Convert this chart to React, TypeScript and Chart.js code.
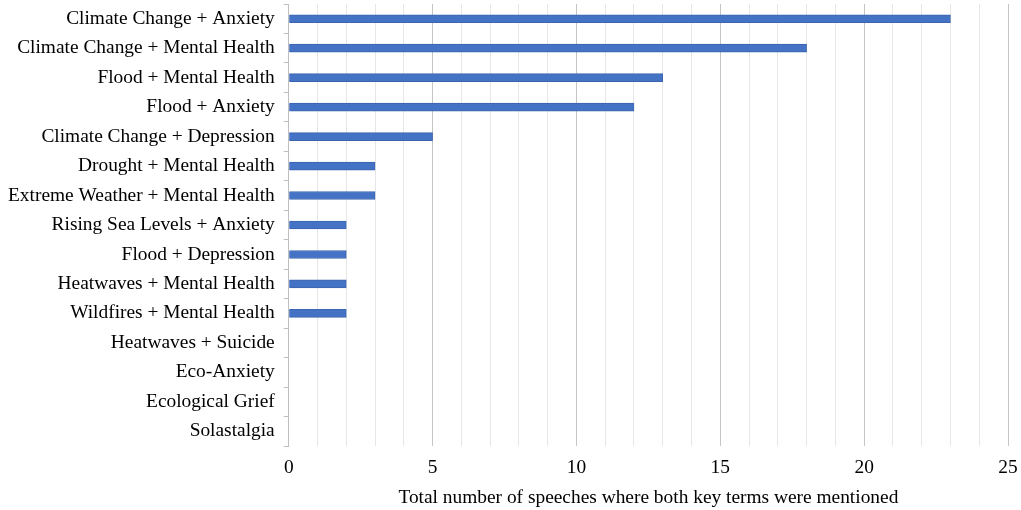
import { useEffect, useRef } from "react";
import { Chart, registerables } from "chart.js";

Chart.register(...registerables);

const categories = [
  "Climate Change + Anxiety",
  "Climate Change + Mental Health",
  "Flood + Mental Health",
  "Flood + Anxiety",
  "Climate Change + Depression",
  "Drought + Mental Health",
  "Extreme Weather + Mental Health",
  "Rising Sea Levels + Anxiety",
  "Flood + Depression",
  "Heatwaves + Mental Health",
  "Wildfires + Mental Health",
  "Heatwaves + Suicide",
  "Eco-Anxiety",
  "Ecological Grief",
  "Solastalgia",
];

const speeches = [23, 18, 13, 12, 5, 3, 3, 2, 2, 2, 2, 0, 0, 0, 0];

const xAxisTitle = "Total number of speeches where both key terms were mentioned";

const FONT = "'Liberation Serif', 'Times New Roman', serif";
const FONT_SIZE = 19.4;

const App: React.FC = () => {
  const chartRef = useRef<HTMLCanvasElement | null>(null);

  useEffect(() => {
    if (!chartRef.current) return;
    const ctx = chartRef.current.getContext("2d");
    if (!ctx) return;

    const chart = new Chart(ctx, {
      type: "bar",
      data: {
        labels: categories,
        datasets: [
          {
            data: speeches,
            backgroundColor: "#4472C4",
            borderColor: "#3B65B0",
            borderWidth: 1,
            barThickness: 8,
          },
        ],
      },
      options: {
        indexAxis: "y",
        animation: false,
        responsive: true,
        maintainAspectRatio: false,
        layout: { padding: { left: 4, right: 13, top: 4, bottom: 0 } },
        plugins: {
          legend: { display: false },
          tooltip: { enabled: false },
        },
        scales: {
          x: {
            min: 0,
            max: 25,
            border: { display: false },
            grid: {
              drawTicks: false,
              color: (c: any) =>
                c.tick && c.tick.value % 5 === 0 ? "#c4c4c4" : "#e6e6e6",
              lineWidth: 1,
            },
            ticks: {
              stepSize: 1,
              autoSkip: false,
              maxRotation: 0,
              padding: 10,
              color: "#000",
              font: { family: FONT, size: FONT_SIZE },
              callback: (v: any) => (Number(v) % 5 === 0 ? String(v) : ""),
            },
            title: {
              display: true,
              text: xAxisTitle,
              color: "#000",
              font: { family: FONT, size: FONT_SIZE },
              padding: { top: 4, bottom: 0 },
            },
            afterFit: (s: any) => {
              s.height = 64;
              s.paddingRight = 0;
              s.paddingLeft = 0;
            },
          },
          y: {
            border: { display: true, color: "#bfbfbf" },
            grid: {
              drawOnChartArea: false,
              drawTicks: true,
              tickLength: 5,
              offset: true,
              color: "#bfbfbf",
            },
            ticks: {
              autoSkip: false,
              padding: 9,
              color: "#000",
              font: { family: FONT, size: FONT_SIZE },
            },
            afterFit: (s: any) => {
              s.width -= 5;
              s.paddingTop = 0;
              s.paddingBottom = 0;
            },
          },
        },
      },
    });

    return () => {
      chart.destroy();
    };
  }, []);

  return (
    <div style={{ position: "fixed", left: 0, top: 0, width: 1021, height: 510 }}>
      <canvas ref={chartRef}></canvas>
    </div>
  );
};

export default App;
